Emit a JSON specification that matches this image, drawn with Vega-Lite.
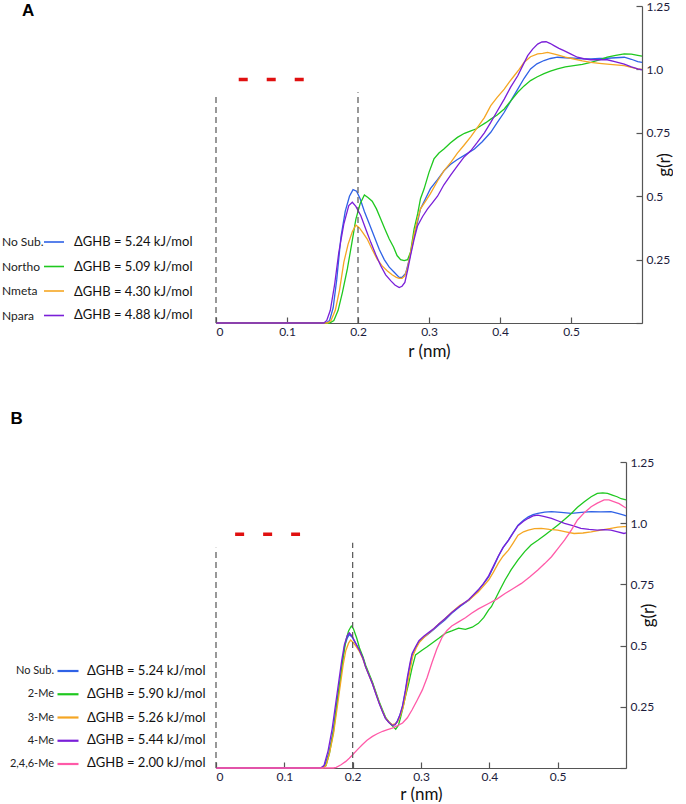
{
  "$schema": "https://vega.github.io/schema/vega-lite/v6.json",
  "padding": {"left": 10, "top": 0, "right": 0, "bottom": 0},
  "background": "white",
  "config": {
    "view": {"stroke": null},
    "font": "Lato",
    "axis": {
      "grid": false,
      "domainColor": "#555",
      "domainWidth": 1.2,
      "tickColor": "#555",
      "tickWidth": 1.2,
      "labelFont": "Lato",
      "labelFontSize": 12,
      "labelColor": "#1c1c3c",
      "labelOverlap": false,
      "titleFont": "Lato",
      "titleFontSize": 17,
      "titleFontWeight": "normal",
      "titleColor": "#111"
    },
    "legend": {"padding": 0}
  },
  "datasets": {
    "infoA": [
      {"s": "No Sub.", "dg": "ΔGHB = 5.24 kJ/mol"},
      {"s": "Northo", "dg": "ΔGHB = 5.09 kJ/mol"},
      {"s": "Nmeta", "dg": "ΔGHB = 4.30 kJ/mol"},
      {"s": "Npara", "dg": "ΔGHB = 4.88 kJ/mol"}
    ],
    "infoB": [
      {"s": "No Sub.", "dg": "ΔGHB = 5.24 kJ/mol"},
      {"s": "2-Me", "dg": "ΔGHB = 5.90 kJ/mol"},
      {"s": "3-Me", "dg": "ΔGHB = 5.26 kJ/mol"},
      {"s": "4-Me", "dg": "ΔGHB = 5.44 kJ/mol"},
      {"s": "2,4,6-Me", "dg": "ΔGHB = 2.00 kJ/mol"}
    ],
    "guidesA": [{"r": 0, "lo": 0, "hi": 0.9}, {"r": 0.2, "lo": 0, "hi": 0.91}],
    "guidesB": [{"r": 0, "lo": 0, "hi": 0.9}, {"r": 0.2, "lo": 0, "hi": 0.92}],
    "hbondA": [{"r1": 0.032, "r2": 0.124, "g": 0.96}],
    "hbondB": [{"r1": 0.028, "r2": 0.123, "g": 0.955}],
    "gA": [
      {"s": "No Sub.", "r": 0, "g": 0}, {"s": "No Sub.", "r": 0.155, "g": 0}, {"s": "No Sub.", "r": 0.16, "g": 0.01}, {"s": "No Sub.", "r": 0.165, "g": 0.06}, {"s": "No Sub.", "r": 0.17, "g": 0.17}, {"s": "No Sub.", "r": 0.176, "g": 0.34}, {"s": "No Sub.", "r": 0.182, "g": 0.44}, {"s": "No Sub.", "r": 0.188, "g": 0.5}, {"s": "No Sub.", "r": 0.193, "g": 0.526}, {"s": "No Sub.", "r": 0.198, "g": 0.52}, {"s": "No Sub.", "r": 0.203, "g": 0.49}, {"s": "No Sub.", "r": 0.209, "g": 0.44}, {"s": "No Sub.", "r": 0.216, "g": 0.39}, {"s": "No Sub.", "r": 0.223, "g": 0.34}, {"s": "No Sub.", "r": 0.23, "g": 0.29}, {"s": "No Sub.", "r": 0.237, "g": 0.25}, {"s": "No Sub.", "r": 0.244, "g": 0.22}, {"s": "No Sub.", "r": 0.251, "g": 0.2}, {"s": "No Sub.", "r": 0.258, "g": 0.18}, {"s": "No Sub.", "r": 0.262, "g": 0.18}, {"s": "No Sub.", "r": 0.267, "g": 0.195}, {"s": "No Sub.", "r": 0.273, "g": 0.26}, {"s": "No Sub.", "r": 0.279, "g": 0.34}, {"s": "No Sub.", "r": 0.284, "g": 0.4}, {"s": "No Sub.", "r": 0.288, "g": 0.45}, {"s": "No Sub.", "r": 0.295, "g": 0.49}, {"s": "No Sub.", "r": 0.302, "g": 0.53}, {"s": "No Sub.", "r": 0.312, "g": 0.565}, {"s": "No Sub.", "r": 0.321, "g": 0.6}, {"s": "No Sub.", "r": 0.33, "g": 0.625}, {"s": "No Sub.", "r": 0.34, "g": 0.645}, {"s": "No Sub.", "r": 0.352, "g": 0.665}, {"s": "No Sub.", "r": 0.364, "g": 0.686}, {"s": "No Sub.", "r": 0.375, "g": 0.715}, {"s": "No Sub.", "r": 0.387, "g": 0.752}, {"s": "No Sub.", "r": 0.396, "g": 0.79}, {"s": "No Sub.", "r": 0.406, "g": 0.831}, {"s": "No Sub.", "r": 0.415, "g": 0.875}, {"s": "No Sub.", "r": 0.425, "g": 0.922}, {"s": "No Sub.", "r": 0.434, "g": 0.965}, {"s": "No Sub.", "r": 0.443, "g": 1.002}, {"s": "No Sub.", "r": 0.452, "g": 1.022}, {"s": "No Sub.", "r": 0.462, "g": 1.035}, {"s": "No Sub.", "r": 0.471, "g": 1.043}, {"s": "No Sub.", "r": 0.481, "g": 1.048}, {"s": "No Sub.", "r": 0.492, "g": 1.046}, {"s": "No Sub.", "r": 0.504, "g": 1.044}, {"s": "No Sub.", "r": 0.516, "g": 1.042}, {"s": "No Sub.", "r": 0.528, "g": 1.041}, {"s": "No Sub.", "r": 0.54, "g": 1.043}, {"s": "No Sub.", "r": 0.551, "g": 1.044}, {"s": "No Sub.", "r": 0.563, "g": 1.046}, {"s": "No Sub.", "r": 0.575, "g": 1.048}, {"s": "No Sub.", "r": 0.585, "g": 1.04}, {"s": "No Sub.", "r": 0.594, "g": 1.031}, {"s": "No Sub.", "r": 0.6, "g": 1.028},
      {"s": "Northo", "r": 0, "g": 0}, {"s": "Northo", "r": 0.16, "g": 0}, {"s": "Northo", "r": 0.166, "g": 0.01}, {"s": "Northo", "r": 0.172, "g": 0.05}, {"s": "Northo", "r": 0.178, "g": 0.12}, {"s": "Northo", "r": 0.185, "g": 0.213}, {"s": "Northo", "r": 0.191, "g": 0.31}, {"s": "Northo", "r": 0.197, "g": 0.41}, {"s": "Northo", "r": 0.203, "g": 0.47}, {"s": "Northo", "r": 0.209, "g": 0.505}, {"s": "Northo", "r": 0.214, "g": 0.495}, {"s": "Northo", "r": 0.22, "g": 0.48}, {"s": "Northo", "r": 0.226, "g": 0.45}, {"s": "Northo", "r": 0.232, "g": 0.41}, {"s": "Northo", "r": 0.238, "g": 0.37}, {"s": "Northo", "r": 0.244, "g": 0.331}, {"s": "Northo", "r": 0.25, "g": 0.3}, {"s": "Northo", "r": 0.255, "g": 0.266}, {"s": "Northo", "r": 0.26, "g": 0.25}, {"s": "Northo", "r": 0.265, "g": 0.246}, {"s": "Northo", "r": 0.27, "g": 0.25}, {"s": "Northo", "r": 0.274, "g": 0.28}, {"s": "Northo", "r": 0.279, "g": 0.37}, {"s": "Northo", "r": 0.284, "g": 0.43}, {"s": "Northo", "r": 0.288, "g": 0.49}, {"s": "Northo", "r": 0.293, "g": 0.528}, {"s": "Northo", "r": 0.3, "g": 0.594}, {"s": "Northo", "r": 0.307, "g": 0.647}, {"s": "Northo", "r": 0.314, "g": 0.67}, {"s": "Northo", "r": 0.321, "g": 0.686}, {"s": "Northo", "r": 0.33, "g": 0.71}, {"s": "Northo", "r": 0.34, "g": 0.732}, {"s": "Northo", "r": 0.35, "g": 0.748}, {"s": "Northo", "r": 0.359, "g": 0.758}, {"s": "Northo", "r": 0.366, "g": 0.765}, {"s": "Northo", "r": 0.373, "g": 0.778}, {"s": "Northo", "r": 0.38, "g": 0.79}, {"s": "Northo", "r": 0.387, "g": 0.804}, {"s": "Northo", "r": 0.396, "g": 0.82}, {"s": "Northo", "r": 0.406, "g": 0.844}, {"s": "Northo", "r": 0.415, "g": 0.875}, {"s": "Northo", "r": 0.425, "g": 0.91}, {"s": "Northo", "r": 0.434, "g": 0.935}, {"s": "Northo", "r": 0.443, "g": 0.956}, {"s": "Northo", "r": 0.452, "g": 0.97}, {"s": "Northo", "r": 0.462, "g": 0.983}, {"s": "Northo", "r": 0.471, "g": 0.993}, {"s": "Northo", "r": 0.481, "g": 1.002}, {"s": "Northo", "r": 0.492, "g": 1.01}, {"s": "Northo", "r": 0.504, "g": 1.015}, {"s": "Northo", "r": 0.516, "g": 1.02}, {"s": "Northo", "r": 0.528, "g": 1.028}, {"s": "Northo", "r": 0.54, "g": 1.038}, {"s": "Northo", "r": 0.551, "g": 1.048}, {"s": "Northo", "r": 0.563, "g": 1.055}, {"s": "Northo", "r": 0.575, "g": 1.061}, {"s": "Northo", "r": 0.585, "g": 1.06}, {"s": "Northo", "r": 0.594, "g": 1.055}, {"s": "Northo", "r": 0.6, "g": 1.052},
      {"s": "Nmeta", "r": 0, "g": 0}, {"s": "Nmeta", "r": 0.157, "g": 0}, {"s": "Nmeta", "r": 0.162, "g": 0.01}, {"s": "Nmeta", "r": 0.168, "g": 0.05}, {"s": "Nmeta", "r": 0.174, "g": 0.13}, {"s": "Nmeta", "r": 0.18, "g": 0.239}, {"s": "Nmeta", "r": 0.186, "g": 0.31}, {"s": "Nmeta", "r": 0.192, "g": 0.36}, {"s": "Nmeta", "r": 0.197, "g": 0.386}, {"s": "Nmeta", "r": 0.202, "g": 0.375}, {"s": "Nmeta", "r": 0.207, "g": 0.355}, {"s": "Nmeta", "r": 0.213, "g": 0.331}, {"s": "Nmeta", "r": 0.22, "g": 0.29}, {"s": "Nmeta", "r": 0.227, "g": 0.252}, {"s": "Nmeta", "r": 0.234, "g": 0.225}, {"s": "Nmeta", "r": 0.241, "g": 0.206}, {"s": "Nmeta", "r": 0.248, "g": 0.19}, {"s": "Nmeta", "r": 0.254, "g": 0.18}, {"s": "Nmeta", "r": 0.258, "g": 0.176}, {"s": "Nmeta", "r": 0.262, "g": 0.176}, {"s": "Nmeta", "r": 0.266, "g": 0.186}, {"s": "Nmeta", "r": 0.27, "g": 0.22}, {"s": "Nmeta", "r": 0.274, "g": 0.278}, {"s": "Nmeta", "r": 0.279, "g": 0.35}, {"s": "Nmeta", "r": 0.284, "g": 0.41}, {"s": "Nmeta", "r": 0.288, "g": 0.45}, {"s": "Nmeta", "r": 0.295, "g": 0.48}, {"s": "Nmeta", "r": 0.302, "g": 0.51}, {"s": "Nmeta", "r": 0.312, "g": 0.56}, {"s": "Nmeta", "r": 0.321, "g": 0.6}, {"s": "Nmeta", "r": 0.331, "g": 0.634}, {"s": "Nmeta", "r": 0.34, "g": 0.67}, {"s": "Nmeta", "r": 0.349, "g": 0.7}, {"s": "Nmeta", "r": 0.359, "g": 0.735}, {"s": "Nmeta", "r": 0.368, "g": 0.77}, {"s": "Nmeta", "r": 0.378, "g": 0.81}, {"s": "Nmeta", "r": 0.387, "g": 0.857}, {"s": "Nmeta", "r": 0.396, "g": 0.89}, {"s": "Nmeta", "r": 0.406, "g": 0.922}, {"s": "Nmeta", "r": 0.413, "g": 0.95}, {"s": "Nmeta", "r": 0.42, "g": 0.975}, {"s": "Nmeta", "r": 0.427, "g": 1.0}, {"s": "Nmeta", "r": 0.434, "g": 1.028}, {"s": "Nmeta", "r": 0.443, "g": 1.05}, {"s": "Nmeta", "r": 0.453, "g": 1.061}, {"s": "Nmeta", "r": 0.46, "g": 1.063}, {"s": "Nmeta", "r": 0.467, "g": 1.067}, {"s": "Nmeta", "r": 0.474, "g": 1.062}, {"s": "Nmeta", "r": 0.481, "g": 1.057}, {"s": "Nmeta", "r": 0.492, "g": 1.048}, {"s": "Nmeta", "r": 0.504, "g": 1.041}, {"s": "Nmeta", "r": 0.516, "g": 1.034}, {"s": "Nmeta", "r": 0.528, "g": 1.028}, {"s": "Nmeta", "r": 0.54, "g": 1.024}, {"s": "Nmeta", "r": 0.551, "g": 1.021}, {"s": "Nmeta", "r": 0.563, "g": 1.018}, {"s": "Nmeta", "r": 0.575, "g": 1.015}, {"s": "Nmeta", "r": 0.585, "g": 1.008}, {"s": "Nmeta", "r": 0.594, "g": 1.002}, {"s": "Nmeta", "r": 0.6, "g": 1.0},
      {"s": "Npara", "r": 0, "g": 0}, {"s": "Npara", "r": 0.152, "g": 0}, {"s": "Npara", "r": 0.156, "g": 0.01}, {"s": "Npara", "r": 0.161, "g": 0.05}, {"s": "Npara", "r": 0.167, "g": 0.15}, {"s": "Npara", "r": 0.173, "g": 0.279}, {"s": "Npara", "r": 0.18, "g": 0.39}, {"s": "Npara", "r": 0.187, "g": 0.463}, {"s": "Npara", "r": 0.192, "g": 0.476}, {"s": "Npara", "r": 0.197, "g": 0.46}, {"s": "Npara", "r": 0.204, "g": 0.423}, {"s": "Npara", "r": 0.211, "g": 0.37}, {"s": "Npara", "r": 0.218, "g": 0.318}, {"s": "Npara", "r": 0.225, "g": 0.27}, {"s": "Npara", "r": 0.232, "g": 0.226}, {"s": "Npara", "r": 0.239, "g": 0.19}, {"s": "Npara", "r": 0.246, "g": 0.167}, {"s": "Npara", "r": 0.252, "g": 0.15}, {"s": "Npara", "r": 0.258, "g": 0.14}, {"s": "Npara", "r": 0.262, "g": 0.145}, {"s": "Npara", "r": 0.266, "g": 0.16}, {"s": "Npara", "r": 0.27, "g": 0.21}, {"s": "Npara", "r": 0.274, "g": 0.266}, {"s": "Npara", "r": 0.279, "g": 0.33}, {"s": "Npara", "r": 0.284, "g": 0.384}, {"s": "Npara", "r": 0.291, "g": 0.42}, {"s": "Npara", "r": 0.298, "g": 0.45}, {"s": "Npara", "r": 0.305, "g": 0.475}, {"s": "Npara", "r": 0.312, "g": 0.5}, {"s": "Npara", "r": 0.321, "g": 0.545}, {"s": "Npara", "r": 0.331, "g": 0.585}, {"s": "Npara", "r": 0.34, "g": 0.62}, {"s": "Npara", "r": 0.349, "g": 0.653}, {"s": "Npara", "r": 0.359, "g": 0.68}, {"s": "Npara", "r": 0.368, "g": 0.712}, {"s": "Npara", "r": 0.378, "g": 0.75}, {"s": "Npara", "r": 0.387, "g": 0.791}, {"s": "Npara", "r": 0.396, "g": 0.835}, {"s": "Npara", "r": 0.406, "g": 0.883}, {"s": "Npara", "r": 0.415, "g": 0.93}, {"s": "Npara", "r": 0.425, "g": 0.975}, {"s": "Npara", "r": 0.432, "g": 1.015}, {"s": "Npara", "r": 0.439, "g": 1.054}, {"s": "Npara", "r": 0.446, "g": 1.08}, {"s": "Npara", "r": 0.453, "g": 1.1}, {"s": "Npara", "r": 0.459, "g": 1.108}, {"s": "Npara", "r": 0.465, "g": 1.109}, {"s": "Npara", "r": 0.471, "g": 1.102}, {"s": "Npara", "r": 0.476, "g": 1.094}, {"s": "Npara", "r": 0.483, "g": 1.083}, {"s": "Npara", "r": 0.49, "g": 1.074}, {"s": "Npara", "r": 0.5, "g": 1.06}, {"s": "Npara", "r": 0.509, "g": 1.048}, {"s": "Npara", "r": 0.518, "g": 1.042}, {"s": "Npara", "r": 0.528, "g": 1.038}, {"s": "Npara", "r": 0.54, "g": 1.038}, {"s": "Npara", "r": 0.551, "g": 1.038}, {"s": "Npara", "r": 0.563, "g": 1.03}, {"s": "Npara", "r": 0.575, "g": 1.021}, {"s": "Npara", "r": 0.585, "g": 1.01}, {"s": "Npara", "r": 0.594, "g": 1.002}, {"s": "Npara", "r": 0.6, "g": 0.998}
    ],
    "gB": [
      {"s": "No Sub.", "r": 0, "g": 0}, {"s": "No Sub.", "r": 0.155, "g": 0}, {"s": "No Sub.", "r": 0.159, "g": 0.01}, {"s": "No Sub.", "r": 0.165, "g": 0.06}, {"s": "No Sub.", "r": 0.171, "g": 0.143}, {"s": "No Sub.", "r": 0.176, "g": 0.25}, {"s": "No Sub.", "r": 0.181, "g": 0.347}, {"s": "No Sub.", "r": 0.185, "g": 0.43}, {"s": "No Sub.", "r": 0.188, "g": 0.496}, {"s": "No Sub.", "r": 0.192, "g": 0.53}, {"s": "No Sub.", "r": 0.195, "g": 0.545}, {"s": "No Sub.", "r": 0.199, "g": 0.535}, {"s": "No Sub.", "r": 0.204, "g": 0.51}, {"s": "No Sub.", "r": 0.21, "g": 0.482}, {"s": "No Sub.", "r": 0.215, "g": 0.45}, {"s": "No Sub.", "r": 0.219, "g": 0.414}, {"s": "No Sub.", "r": 0.224, "g": 0.38}, {"s": "No Sub.", "r": 0.229, "g": 0.346}, {"s": "No Sub.", "r": 0.234, "g": 0.305}, {"s": "No Sub.", "r": 0.239, "g": 0.265}, {"s": "No Sub.", "r": 0.244, "g": 0.23}, {"s": "No Sub.", "r": 0.248, "g": 0.204}, {"s": "No Sub.", "r": 0.253, "g": 0.188}, {"s": "No Sub.", "r": 0.258, "g": 0.176}, {"s": "No Sub.", "r": 0.262, "g": 0.178}, {"s": "No Sub.", "r": 0.265, "g": 0.19}, {"s": "No Sub.", "r": 0.269, "g": 0.215}, {"s": "No Sub.", "r": 0.273, "g": 0.251}, {"s": "No Sub.", "r": 0.277, "g": 0.31}, {"s": "No Sub.", "r": 0.28, "g": 0.36}, {"s": "No Sub.", "r": 0.284, "g": 0.42}, {"s": "No Sub.", "r": 0.287, "g": 0.462}, {"s": "No Sub.", "r": 0.292, "g": 0.49}, {"s": "No Sub.", "r": 0.297, "g": 0.516}, {"s": "No Sub.", "r": 0.304, "g": 0.533}, {"s": "No Sub.", "r": 0.312, "g": 0.55}, {"s": "No Sub.", "r": 0.319, "g": 0.567}, {"s": "No Sub.", "r": 0.326, "g": 0.584}, {"s": "No Sub.", "r": 0.335, "g": 0.605}, {"s": "No Sub.", "r": 0.345, "g": 0.632}, {"s": "No Sub.", "r": 0.357, "g": 0.66}, {"s": "No Sub.", "r": 0.37, "g": 0.685}, {"s": "No Sub.", "r": 0.384, "g": 0.727}, {"s": "No Sub.", "r": 0.391, "g": 0.75}, {"s": "No Sub.", "r": 0.399, "g": 0.781}, {"s": "No Sub.", "r": 0.406, "g": 0.82}, {"s": "No Sub.", "r": 0.413, "g": 0.863}, {"s": "No Sub.", "r": 0.42, "g": 0.9}, {"s": "No Sub.", "r": 0.428, "g": 0.931}, {"s": "No Sub.", "r": 0.435, "g": 0.963}, {"s": "No Sub.", "r": 0.442, "g": 0.992}, {"s": "No Sub.", "r": 0.45, "g": 1.012}, {"s": "No Sub.", "r": 0.457, "g": 1.026}, {"s": "No Sub.", "r": 0.464, "g": 1.035}, {"s": "No Sub.", "r": 0.471, "g": 1.04}, {"s": "No Sub.", "r": 0.481, "g": 1.045}, {"s": "No Sub.", "r": 0.491, "g": 1.047}, {"s": "No Sub.", "r": 0.505, "g": 1.044}, {"s": "No Sub.", "r": 0.52, "g": 1.04}, {"s": "No Sub.", "r": 0.535, "g": 1.044}, {"s": "No Sub.", "r": 0.549, "g": 1.047}, {"s": "No Sub.", "r": 0.563, "g": 1.046}, {"s": "No Sub.", "r": 0.578, "g": 1.047}, {"s": "No Sub.", "r": 0.588, "g": 1.04}, {"s": "No Sub.", "r": 0.597, "g": 1.033}, {"s": "No Sub.", "r": 0.6, "g": 1.03},
      {"s": "2-Me", "r": 0, "g": 0}, {"s": "2-Me", "r": 0.156, "g": 0}, {"s": "2-Me", "r": 0.161, "g": 0.01}, {"s": "2-Me", "r": 0.166, "g": 0.06}, {"s": "2-Me", "r": 0.172, "g": 0.15}, {"s": "2-Me", "r": 0.177, "g": 0.26}, {"s": "2-Me", "r": 0.182, "g": 0.36}, {"s": "2-Me", "r": 0.186, "g": 0.45}, {"s": "2-Me", "r": 0.19, "g": 0.52}, {"s": "2-Me", "r": 0.194, "g": 0.56}, {"s": "2-Me", "r": 0.198, "g": 0.58}, {"s": "2-Me", "r": 0.201, "g": 0.57}, {"s": "2-Me", "r": 0.206, "g": 0.53}, {"s": "2-Me", "r": 0.21, "g": 0.49}, {"s": "2-Me", "r": 0.215, "g": 0.455}, {"s": "2-Me", "r": 0.219, "g": 0.42}, {"s": "2-Me", "r": 0.224, "g": 0.385}, {"s": "2-Me", "r": 0.229, "g": 0.35}, {"s": "2-Me", "r": 0.234, "g": 0.31}, {"s": "2-Me", "r": 0.239, "g": 0.27}, {"s": "2-Me", "r": 0.244, "g": 0.235}, {"s": "2-Me", "r": 0.248, "g": 0.208}, {"s": "2-Me", "r": 0.253, "g": 0.188}, {"s": "2-Me", "r": 0.258, "g": 0.172}, {"s": "2-Me", "r": 0.263, "g": 0.158}, {"s": "2-Me", "r": 0.267, "g": 0.175}, {"s": "2-Me", "r": 0.27, "g": 0.205}, {"s": "2-Me", "r": 0.273, "g": 0.24}, {"s": "2-Me", "r": 0.277, "g": 0.29}, {"s": "2-Me", "r": 0.282, "g": 0.346}, {"s": "2-Me", "r": 0.287, "g": 0.41}, {"s": "2-Me", "r": 0.292, "g": 0.462}, {"s": "2-Me", "r": 0.297, "g": 0.472}, {"s": "2-Me", "r": 0.302, "g": 0.482}, {"s": "2-Me", "r": 0.309, "g": 0.495}, {"s": "2-Me", "r": 0.316, "g": 0.51}, {"s": "2-Me", "r": 0.326, "g": 0.53}, {"s": "2-Me", "r": 0.336, "g": 0.551}, {"s": "2-Me", "r": 0.345, "g": 0.56}, {"s": "2-Me", "r": 0.355, "g": 0.571}, {"s": "2-Me", "r": 0.365, "g": 0.566}, {"s": "2-Me", "r": 0.375, "g": 0.575}, {"s": "2-Me", "r": 0.384, "g": 0.591}, {"s": "2-Me", "r": 0.392, "g": 0.615}, {"s": "2-Me", "r": 0.399, "g": 0.646}, {"s": "2-Me", "r": 0.403, "g": 0.659}, {"s": "2-Me", "r": 0.408, "g": 0.686}, {"s": "2-Me", "r": 0.415, "g": 0.725}, {"s": "2-Me", "r": 0.423, "g": 0.768}, {"s": "2-Me", "r": 0.432, "g": 0.81}, {"s": "2-Me", "r": 0.442, "g": 0.85}, {"s": "2-Me", "r": 0.452, "g": 0.885}, {"s": "2-Me", "r": 0.461, "g": 0.911}, {"s": "2-Me", "r": 0.471, "g": 0.93}, {"s": "2-Me", "r": 0.481, "g": 0.951}, {"s": "2-Me", "r": 0.49, "g": 0.97}, {"s": "2-Me", "r": 0.5, "g": 0.992}, {"s": "2-Me", "r": 0.51, "g": 1.015}, {"s": "2-Me", "r": 0.52, "g": 1.04}, {"s": "2-Me", "r": 0.529, "g": 1.065}, {"s": "2-Me", "r": 0.539, "g": 1.088}, {"s": "2-Me", "r": 0.549, "g": 1.108}, {"s": "2-Me", "r": 0.558, "g": 1.122}, {"s": "2-Me", "r": 0.566, "g": 1.124}, {"s": "2-Me", "r": 0.573, "g": 1.122}, {"s": "2-Me", "r": 0.58, "g": 1.115}, {"s": "2-Me", "r": 0.587, "g": 1.108}, {"s": "2-Me", "r": 0.593, "g": 1.1}, {"s": "2-Me", "r": 0.6, "g": 1.095},
      {"s": "3-Me", "r": 0, "g": 0}, {"s": "3-Me", "r": 0.156, "g": 0}, {"s": "3-Me", "r": 0.161, "g": 0.01}, {"s": "3-Me", "r": 0.166, "g": 0.06}, {"s": "3-Me", "r": 0.172, "g": 0.14}, {"s": "3-Me", "r": 0.177, "g": 0.24}, {"s": "3-Me", "r": 0.182, "g": 0.34}, {"s": "3-Me", "r": 0.186, "g": 0.42}, {"s": "3-Me", "r": 0.19, "g": 0.48}, {"s": "3-Me", "r": 0.194, "g": 0.51}, {"s": "3-Me", "r": 0.197, "g": 0.523}, {"s": "3-Me", "r": 0.2, "g": 0.515}, {"s": "3-Me", "r": 0.205, "g": 0.497}, {"s": "3-Me", "r": 0.21, "g": 0.475}, {"s": "3-Me", "r": 0.215, "g": 0.445}, {"s": "3-Me", "r": 0.219, "g": 0.412}, {"s": "3-Me", "r": 0.224, "g": 0.378}, {"s": "3-Me", "r": 0.229, "g": 0.344}, {"s": "3-Me", "r": 0.234, "g": 0.304}, {"s": "3-Me", "r": 0.239, "g": 0.264}, {"s": "3-Me", "r": 0.244, "g": 0.23}, {"s": "3-Me", "r": 0.248, "g": 0.205}, {"s": "3-Me", "r": 0.253, "g": 0.188}, {"s": "3-Me", "r": 0.258, "g": 0.177}, {"s": "3-Me", "r": 0.262, "g": 0.18}, {"s": "3-Me", "r": 0.266, "g": 0.19}, {"s": "3-Me", "r": 0.27, "g": 0.215}, {"s": "3-Me", "r": 0.274, "g": 0.25}, {"s": "3-Me", "r": 0.278, "g": 0.305}, {"s": "3-Me", "r": 0.281, "g": 0.355}, {"s": "3-Me", "r": 0.285, "g": 0.415}, {"s": "3-Me", "r": 0.288, "g": 0.458}, {"s": "3-Me", "r": 0.293, "g": 0.49}, {"s": "3-Me", "r": 0.298, "g": 0.515}, {"s": "3-Me", "r": 0.305, "g": 0.535}, {"s": "3-Me", "r": 0.312, "g": 0.552}, {"s": "3-Me", "r": 0.319, "g": 0.57}, {"s": "3-Me", "r": 0.326, "g": 0.588}, {"s": "3-Me", "r": 0.335, "g": 0.61}, {"s": "3-Me", "r": 0.345, "g": 0.636}, {"s": "3-Me", "r": 0.357, "g": 0.665}, {"s": "3-Me", "r": 0.37, "g": 0.685}, {"s": "3-Me", "r": 0.384, "g": 0.72}, {"s": "3-Me", "r": 0.391, "g": 0.742}, {"s": "3-Me", "r": 0.399, "g": 0.768}, {"s": "3-Me", "r": 0.406, "g": 0.8}, {"s": "3-Me", "r": 0.413, "g": 0.836}, {"s": "3-Me", "r": 0.42, "g": 0.865}, {"s": "3-Me", "r": 0.428, "g": 0.89}, {"s": "3-Me", "r": 0.435, "g": 0.92}, {"s": "3-Me", "r": 0.442, "g": 0.951}, {"s": "3-Me", "r": 0.45, "g": 0.965}, {"s": "3-Me", "r": 0.457, "g": 0.972}, {"s": "3-Me", "r": 0.466, "g": 0.978}, {"s": "3-Me", "r": 0.476, "g": 0.979}, {"s": "3-Me", "r": 0.488, "g": 0.975}, {"s": "3-Me", "r": 0.5, "g": 0.972}, {"s": "3-Me", "r": 0.512, "g": 0.965}, {"s": "3-Me", "r": 0.524, "g": 0.958}, {"s": "3-Me", "r": 0.537, "g": 0.96}, {"s": "3-Me", "r": 0.549, "g": 0.965}, {"s": "3-Me", "r": 0.563, "g": 0.972}, {"s": "3-Me", "r": 0.578, "g": 0.979}, {"s": "3-Me", "r": 0.588, "g": 0.984}, {"s": "3-Me", "r": 0.597, "g": 0.986}, {"s": "3-Me", "r": 0.6, "g": 0.986},
      {"s": "4-Me", "r": 0, "g": 0}, {"s": "4-Me", "r": 0.153, "g": 0}, {"s": "4-Me", "r": 0.158, "g": 0.01}, {"s": "4-Me", "r": 0.164, "g": 0.07}, {"s": "4-Me", "r": 0.17, "g": 0.16}, {"s": "4-Me", "r": 0.175, "g": 0.26}, {"s": "4-Me", "r": 0.18, "g": 0.36}, {"s": "4-Me", "r": 0.184, "g": 0.44}, {"s": "4-Me", "r": 0.188, "g": 0.505}, {"s": "4-Me", "r": 0.192, "g": 0.54}, {"s": "4-Me", "r": 0.195, "g": 0.552}, {"s": "4-Me", "r": 0.199, "g": 0.54}, {"s": "4-Me", "r": 0.204, "g": 0.512}, {"s": "4-Me", "r": 0.21, "g": 0.48}, {"s": "4-Me", "r": 0.215, "g": 0.448}, {"s": "4-Me", "r": 0.219, "g": 0.412}, {"s": "4-Me", "r": 0.224, "g": 0.378}, {"s": "4-Me", "r": 0.229, "g": 0.343}, {"s": "4-Me", "r": 0.234, "g": 0.302}, {"s": "4-Me", "r": 0.239, "g": 0.262}, {"s": "4-Me", "r": 0.244, "g": 0.228}, {"s": "4-Me", "r": 0.248, "g": 0.203}, {"s": "4-Me", "r": 0.253, "g": 0.186}, {"s": "4-Me", "r": 0.258, "g": 0.174}, {"s": "4-Me", "r": 0.262, "g": 0.176}, {"s": "4-Me", "r": 0.265, "g": 0.188}, {"s": "4-Me", "r": 0.269, "g": 0.215}, {"s": "4-Me", "r": 0.273, "g": 0.255}, {"s": "4-Me", "r": 0.277, "g": 0.315}, {"s": "4-Me", "r": 0.28, "g": 0.37}, {"s": "4-Me", "r": 0.284, "g": 0.43}, {"s": "4-Me", "r": 0.287, "g": 0.468}, {"s": "4-Me", "r": 0.292, "g": 0.495}, {"s": "4-Me", "r": 0.297, "g": 0.52}, {"s": "4-Me", "r": 0.304, "g": 0.538}, {"s": "4-Me", "r": 0.312, "g": 0.555}, {"s": "4-Me", "r": 0.319, "g": 0.57}, {"s": "4-Me", "r": 0.326, "g": 0.588}, {"s": "4-Me", "r": 0.335, "g": 0.61}, {"s": "4-Me", "r": 0.345, "g": 0.635}, {"s": "4-Me", "r": 0.357, "g": 0.662}, {"s": "4-Me", "r": 0.37, "g": 0.688}, {"s": "4-Me", "r": 0.384, "g": 0.728}, {"s": "4-Me", "r": 0.391, "g": 0.752}, {"s": "4-Me", "r": 0.399, "g": 0.785}, {"s": "4-Me", "r": 0.406, "g": 0.825}, {"s": "4-Me", "r": 0.413, "g": 0.865}, {"s": "4-Me", "r": 0.42, "g": 0.9}, {"s": "4-Me", "r": 0.428, "g": 0.93}, {"s": "4-Me", "r": 0.435, "g": 0.96}, {"s": "4-Me", "r": 0.442, "g": 0.99}, {"s": "4-Me", "r": 0.45, "g": 1.008}, {"s": "4-Me", "r": 0.457, "g": 1.02}, {"s": "4-Me", "r": 0.464, "g": 1.03}, {"s": "4-Me", "r": 0.471, "g": 1.033}, {"s": "4-Me", "r": 0.481, "g": 1.027}, {"s": "4-Me", "r": 0.491, "g": 1.02}, {"s": "4-Me", "r": 0.5, "g": 1.01}, {"s": "4-Me", "r": 0.51, "g": 0.999}, {"s": "4-Me", "r": 0.522, "g": 0.99}, {"s": "4-Me", "r": 0.534, "g": 0.979}, {"s": "4-Me", "r": 0.546, "g": 0.975}, {"s": "4-Me", "r": 0.558, "g": 0.972}, {"s": "4-Me", "r": 0.568, "g": 0.974}, {"s": "4-Me", "r": 0.578, "g": 0.972}, {"s": "4-Me", "r": 0.588, "g": 0.965}, {"s": "4-Me", "r": 0.597, "g": 0.958}, {"s": "4-Me", "r": 0.6, "g": 0.96},
      {"s": "2,4,6-Me", "r": 0, "g": 0}, {"s": "2,4,6-Me", "r": 0.172, "g": 0}, {"s": "2,4,6-Me", "r": 0.176, "g": 0.003}, {"s": "2,4,6-Me", "r": 0.183, "g": 0.013}, {"s": "2,4,6-Me", "r": 0.19, "g": 0.027}, {"s": "2,4,6-Me", "r": 0.195, "g": 0.04}, {"s": "2,4,6-Me", "r": 0.2, "g": 0.054}, {"s": "2,4,6-Me", "r": 0.207, "g": 0.075}, {"s": "2,4,6-Me", "r": 0.214, "g": 0.095}, {"s": "2,4,6-Me", "r": 0.221, "g": 0.113}, {"s": "2,4,6-Me", "r": 0.229, "g": 0.129}, {"s": "2,4,6-Me", "r": 0.236, "g": 0.14}, {"s": "2,4,6-Me", "r": 0.244, "g": 0.15}, {"s": "2,4,6-Me", "r": 0.251, "g": 0.157}, {"s": "2,4,6-Me", "r": 0.258, "g": 0.163}, {"s": "2,4,6-Me", "r": 0.265, "g": 0.172}, {"s": "2,4,6-Me", "r": 0.273, "g": 0.184}, {"s": "2,4,6-Me", "r": 0.28, "g": 0.205}, {"s": "2,4,6-Me", "r": 0.287, "g": 0.238}, {"s": "2,4,6-Me", "r": 0.294, "g": 0.275}, {"s": "2,4,6-Me", "r": 0.302, "g": 0.319}, {"s": "2,4,6-Me", "r": 0.309, "g": 0.37}, {"s": "2,4,6-Me", "r": 0.316, "g": 0.43}, {"s": "2,4,6-Me", "r": 0.323, "g": 0.485}, {"s": "2,4,6-Me", "r": 0.331, "g": 0.535}, {"s": "2,4,6-Me", "r": 0.338, "g": 0.562}, {"s": "2,4,6-Me", "r": 0.345, "g": 0.58}, {"s": "2,4,6-Me", "r": 0.355, "g": 0.597}, {"s": "2,4,6-Me", "r": 0.365, "g": 0.614}, {"s": "2,4,6-Me", "r": 0.374, "g": 0.632}, {"s": "2,4,6-Me", "r": 0.384, "g": 0.65}, {"s": "2,4,6-Me", "r": 0.399, "g": 0.672}, {"s": "2,4,6-Me", "r": 0.411, "g": 0.69}, {"s": "2,4,6-Me", "r": 0.423, "g": 0.713}, {"s": "2,4,6-Me", "r": 0.435, "g": 0.733}, {"s": "2,4,6-Me", "r": 0.447, "g": 0.754}, {"s": "2,4,6-Me", "r": 0.459, "g": 0.78}, {"s": "2,4,6-Me", "r": 0.471, "g": 0.809}, {"s": "2,4,6-Me", "r": 0.481, "g": 0.835}, {"s": "2,4,6-Me", "r": 0.491, "g": 0.863}, {"s": "2,4,6-Me", "r": 0.5, "g": 0.895}, {"s": "2,4,6-Me", "r": 0.51, "g": 0.931}, {"s": "2,4,6-Me", "r": 0.52, "g": 0.972}, {"s": "2,4,6-Me", "r": 0.529, "g": 1.013}, {"s": "2,4,6-Me", "r": 0.539, "g": 1.043}, {"s": "2,4,6-Me", "r": 0.549, "g": 1.067}, {"s": "2,4,6-Me", "r": 0.558, "g": 1.082}, {"s": "2,4,6-Me", "r": 0.568, "g": 1.095}, {"s": "2,4,6-Me", "r": 0.575, "g": 1.095}, {"s": "2,4,6-Me", "r": 0.582, "g": 1.088}, {"s": "2,4,6-Me", "r": 0.59, "g": 1.08}, {"s": "2,4,6-Me", "r": 0.597, "g": 1.067}, {"s": "2,4,6-Me", "r": 0.6, "g": 1.062}
    ]
  },
  "spacing": 51,
  "resolve": {
    "scale": {"x": "independent", "y": "independent", "color": "independent", "shape": "independent"},
    "legend": {"color": "independent", "shape": "independent"}
  },
  "vconcat": [
    {
      "title": {"text": "A", "anchor": "start", "frame": "bounds", "font": "Liberation Sans", "fontSize": 17, "fontWeight": "bold", "color": "#000", "dx": -21, "offset": -20},
      "width": 426,
      "height": 317,
      "layer": [
        {
          "data": {"name": "gA"},
          "mark": {"type": "line", "strokeWidth": 1.3},
          "encoding": {
            "x": {
              "field": "r",
              "type": "quantitative",
              "scale": {"domain": [0, 0.6], "nice": false},
              "axis": {
                "title": "r (nm)",
                "values": [0, 0.05, 0.1, 0.15, 0.2, 0.25, 0.3, 0.35, 0.4, 0.45, 0.5, 0.55],
                "labelExpr": "abs(datum.value * 10 - round(datum.value * 10)) < 0.001 && datum.value < 0.55 ? format(datum.value, '.1~f') : ''",
                "labelOverlap": false,
                "tickSize": -6,
                "labelPadding": 9,
                "titlePadding": 6
              }
            },
            "y": {
              "field": "g",
              "type": "quantitative",
              "scale": {"domain": [0, 1.25], "nice": false},
              "axis": {
                "orient": "right",
                "title": "g(r)",
                "titleAngle": 270,
                "values": [0, 0.125, 0.25, 0.375, 0.5, 0.625, 0.75, 0.875, 1, 1.125, 1.25],
                "labelExpr": "datum.value == 1 ? '1.0' : (datum.value > 0 && abs(datum.value * 4 - round(datum.value * 4)) < 0.001 ? format(datum.value, '.2~f') : '')",
                "labelOverlap": false,
                "tickSize": -6,
                "labelPadding": 10,
                "titlePadding": 4
              }
            },
            "color": {
              "field": "s",
              "type": "nominal",
              "scale": {
                "domain": ["No Sub.", "Northo", "Nmeta", "Npara"],
                "range": ["#2f62e6", "#1fc81f", "#f5a623", "#7a1fd8"]
              },
              "legend": {
                "orient": "none", "legendX": -173, "legendY": 225, "title": null,
                "symbolType": "stroke", "symbolSize": 400, "symbolStrokeWidth": 1.6,
                "labelFont": "Lato", "labelFontSize": 12, "labelColor": "#222", "labelAlign": "left", "labelOffset": -63,
                "rowPadding": 7.5
              }
            }
          }
        },
        {
          "data": {"name": "infoA"},
          "mark": {"type": "point", "opacity": 0},
          "encoding": {
            "shape": {
              "field": "dg",
              "type": "nominal",
              "scale": {"domain": ["ΔGHB = 5.24 kJ/mol", "ΔGHB = 5.09 kJ/mol", "ΔGHB = 4.30 kJ/mol", "ΔGHB = 4.88 kJ/mol"]},
              "legend": {
                "orient": "none", "legendX": -173, "legendY": 225, "title": null,
                "symbolType": "stroke", "symbolSize": 400, "symbolStrokeWidth": 1.6, "symbolOpacity": 0,
                "labelFont": "Lato", "labelFontSize": 13, "labelColor": "#111", "labelOffset": 9,
                "rowPadding": 3.8, "labelLimit": 300
              }
            }
          }
        },
        {
          "data": {"name": "guidesA"},
          "mark": {"type": "rule", "color": "#555", "strokeWidth": 1.2, "strokeDash": [6, 4]},
          "encoding": {
            "x": {"field": "r", "type": "quantitative"},
            "y": {"field": "lo", "type": "quantitative"},
            "y2": {"field": "hi"}
          }
        },
        {
          "data": {"name": "hbondA"},
          "mark": {"type": "rule", "color": "#e01010", "strokeWidth": 3.5, "strokeDash": [9, 19]},
          "encoding": {
            "x": {"field": "r1", "type": "quantitative"},
            "x2": {"field": "r2"},
            "y": {"field": "g", "type": "quantitative"}
          }
        }
      ]
    },
    {
      "title": {"text": "B", "anchor": "start", "frame": "bounds", "font": "Liberation Sans", "fontSize": 17, "fontWeight": "bold", "color": "#000", "dx": -33.5, "offset": 28},
      "width": 410,
      "height": 306,
      "layer": [
        {
          "data": {"name": "gB"},
          "mark": {"type": "line", "strokeWidth": 1.3},
          "encoding": {
            "x": {
              "field": "r",
              "type": "quantitative",
              "scale": {"domain": [0, 0.6], "nice": false},
              "axis": {
                "title": "r (nm)",
                "values": [0, 0.05, 0.1, 0.15, 0.2, 0.25, 0.3, 0.35, 0.4, 0.45, 0.5, 0.55],
                "labelExpr": "abs(datum.value * 10 - round(datum.value * 10)) < 0.001 && datum.value < 0.55 ? format(datum.value, '.1~f') : ''",
                "labelOverlap": false,
                "tickSize": -6,
                "labelPadding": 9,
                "titlePadding": 4
              }
            },
            "y": {
              "field": "g",
              "type": "quantitative",
              "scale": {"domain": [0, 1.25], "nice": false},
              "axis": {
                "orient": "right",
                "title": "g(r)",
                "titleAngle": 270,
                "values": [0, 0.125, 0.25, 0.375, 0.5, 0.625, 0.75, 0.875, 1, 1.125, 1.25],
                "labelExpr": "datum.value == 1 ? '1.0' : (datum.value > 0 && abs(datum.value * 4 - round(datum.value * 4)) < 0.001 ? format(datum.value, '.2~f') : '')",
                "labelOverlap": false,
                "tickSize": -6,
                "labelPadding": 10,
                "titlePadding": 4
              }
            },
            "color": {
              "field": "s",
              "type": "nominal",
              "scale": {
                "domain": ["No Sub.", "2-Me", "3-Me", "4-Me", "2,4,6-Me"],
                "range": ["#2f62e6", "#1fc81f", "#f5a623", "#7a1fd8", "#ff5aa8"]
              },
              "legend": {
                "orient": "none", "legendX": -160, "legendY": 197, "title": null,
                "symbolType": "stroke", "symbolSize": 441, "symbolStrokeWidth": 2.2,
                "labelFont": "Lato", "labelFontSize": 11, "labelColor": "#222", "labelAlign": "right", "labelOffset": -26,
                "rowPadding": 6.25
              }
            }
          }
        },
        {
          "data": {"name": "infoB"},
          "mark": {"type": "point", "opacity": 0},
          "encoding": {
            "shape": {
              "field": "dg",
              "type": "nominal",
              "scale": {"domain": ["ΔGHB = 5.24 kJ/mol", "ΔGHB = 5.90 kJ/mol", "ΔGHB = 5.26 kJ/mol", "ΔGHB = 5.44 kJ/mol", "ΔGHB = 2.00 kJ/mol"]},
              "legend": {
                "orient": "none", "legendX": -172, "legendY": 197, "title": null,
                "symbolType": "stroke", "symbolSize": 441, "symbolStrokeWidth": 2.2, "symbolOpacity": 0,
                "labelFont": "Lato", "labelFontSize": 13, "labelColor": "#111", "labelOffset": 19,
                "rowPadding": 0.25, "labelLimit": 300
              }
            }
          }
        },
        {
          "data": {"name": "guidesB"},
          "mark": {"type": "rule", "color": "#555", "strokeWidth": 1.2, "strokeDash": [6, 4]},
          "encoding": {
            "x": {"field": "r", "type": "quantitative"},
            "y": {"field": "lo", "type": "quantitative"},
            "y2": {"field": "hi"}
          }
        },
        {
          "data": {"name": "hbondB"},
          "mark": {"type": "rule", "color": "#e01010", "strokeWidth": 3.5, "strokeDash": [9, 19]},
          "encoding": {
            "x": {"field": "r1", "type": "quantitative"},
            "x2": {"field": "r2"},
            "y": {"field": "g", "type": "quantitative"}
          }
        }
      ]
    }
  ]
}
